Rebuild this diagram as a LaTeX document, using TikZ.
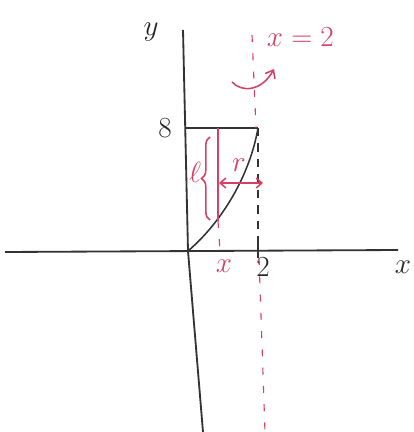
\documentclass[tikz,border=0pt]{standalone}
\usepackage{tikz}
\usetikzlibrary{arrows.meta,decorations.pathreplacing,positioning}
\definecolor{pen}{RGB}{214,64,100}

\begin{document}
\begin{tikzpicture}[x=0.025cm, y=-0.025cm,
    axis/.style={line width=1.3pt, black!80},
    graph/.style={line width=1.1pt, black!80},
    guide/.style={line width=1pt, black!80, dash pattern=on 6pt off 5pt},
    redaxis/.style={line width=0.8pt, pen, dash pattern=on 5pt off 8pt},
    strip/.style={line width=1.1pt, pen},
    redarrow/.style={line width=1.1pt, pen, -{Straight Barb[length=5pt,width=8pt]}},
    lbl/.style={font=\huge, text=black!85},
    redlbl/.style={font=\huge, text=pen}
]
    % frame of the page
    \useasboundingbox (0,0) rectangle (413,432);

    % axes
    \coordinate (O) at (188,251);
    \coordinate (ytop) at (183,30);
    \coordinate (ybot) at (203,432);
    \coordinate (xleft) at (5,252);
    \coordinate (xright) at (398,250);
    \draw[axis] (ybot) -- (O) -- (ytop);
    \draw[axis] (xleft) -- (xright);
    \node[lbl] (ylab) at (151,32) {$y$};
    \node[lbl] (xlab) at (403,267) {$x$};

    % region: top edge y=8 and curve
    \coordinate (top8) at (185,128);
    \coordinate (P) at (258,128);
    \coordinate (tick2) at (258,251);
    \draw[graph] (top8) -- (P);
    \draw[graph] (O) .. controls (222,222) and (250,175) .. (P);
    \draw[guide] (P) -- (tick2);
    \draw[graph] (258,241) -- (258,258);
    \node[lbl] (eight) at (165,128) {8};
    \node[lbl] (two) at (263,267) {2};

    % axis of rotation x=2
    \coordinate (rtop) at (252,35);
    \coordinate (rbot) at (265,432);
    \draw[redaxis] (rtop) -- (256,128);
    \draw[redaxis] (259,258) -- (rbot);
    \node[redlbl, anchor=west] (axislab) at (262,37) {$x=2$};
    \draw[redarrow] (232,82) .. controls (242,93) and (262,91) .. (274,69);

    % strip at x
    \coordinate (stripT) at (218,128);
    \coordinate (stripB) at (218,221);
    \coordinate (stripX) at (220,251);
    \draw[strip] (stripT) -- (stripB);
    \draw[redaxis] (stripB) -- (stripX);
    \node[redlbl] (xsmall) at (224,266) {$x$};

    % length l
    \draw[strip, decorate, decoration={brace, amplitude=6pt}] (210,220) -- (210,137);
    \node[redlbl] (llab) at (195,172) {$\ell$};

    % radius r
    \coordinate (rA) at (219,183);
    \coordinate (rB) at (263,183);
    \draw[strip, {Straight Barb[length=4pt,width=7pt]}-{Straight Barb[length=4pt,width=7pt]}] (rA) -- (rB);
    \node[redlbl] (rlab) at (239,165) {$r$};

\end{tikzpicture}
\end{document}
